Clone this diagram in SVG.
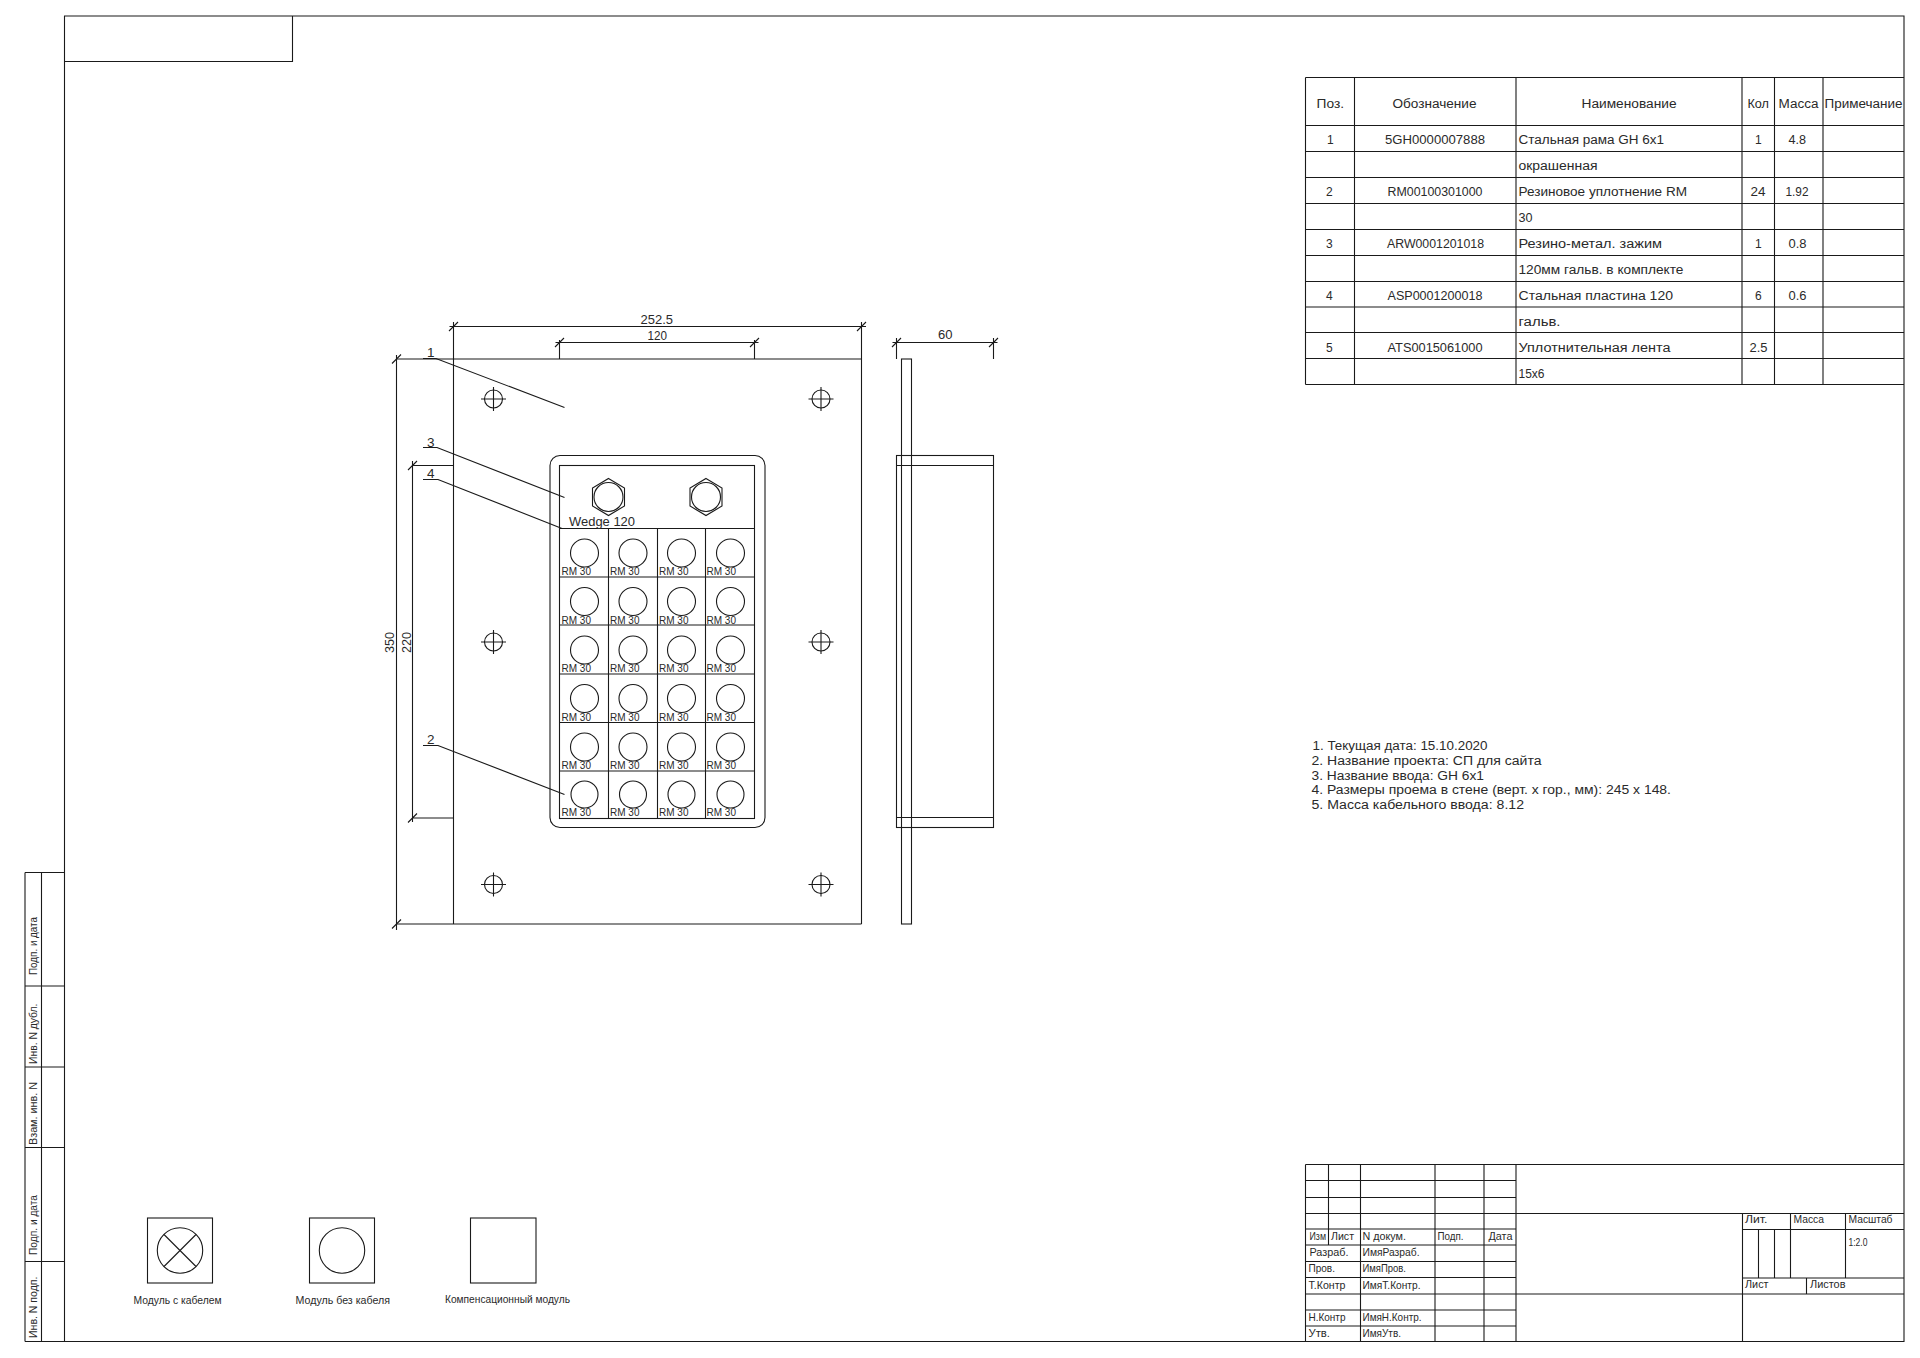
<svg xmlns="http://www.w3.org/2000/svg" width="1920" height="1358" viewBox="0 0 1920 1358">
<style>
.l{fill:none;stroke:#1a1a1a;stroke-width:1.1}
text{font-family:"Liberation Sans",Arial,sans-serif;fill:#2a2a2a;font-size:12px}
.s{font-size:10.5px}
.d{font-size:13.5px}
</style>
<rect width="1920" height="1358" fill="#fff"/>
<g id="frame">
<path class="l" d="M64.5 16H1904V1341.5H64.5ZM64.5 61.5H292.5V16M25 872.5H64.5M25 986H64.5M25 1067H64.5M25 1147.5H64.5M25 1261.5H64.5M25 1341.5H64.5M25 872.5V1341.5M41.5 872.5V1341.5"/>
<text class="s" transform="translate(36.5 975) rotate(-90)" textLength="58" lengthAdjust="spacingAndGlyphs">Подп. и дата</text>
<text class="s" transform="translate(36.5 1064) rotate(-90)" textLength="60.5" lengthAdjust="spacingAndGlyphs">Инв. N дубл.</text>
<text class="s" transform="translate(36.5 1145) rotate(-90)" textLength="63" lengthAdjust="spacingAndGlyphs">Взам. инв. N</text>
<text class="s" transform="translate(36.5 1255) rotate(-90)" textLength="60" lengthAdjust="spacingAndGlyphs">Подп. и дата</text>
<text class="s" transform="translate(36.5 1338) rotate(-90)" textLength="61.5" lengthAdjust="spacingAndGlyphs">Инв. N подп.</text>
</g>
<g id="front-view">
<path class="l" d="M453.5 322V924M861.5 322V924M396.5 359H861.5M396.5 924H861.5"/>
<g id="holes">
<path class="l" d="M481 399H506M493.5 387V411M808.5 399H833.5M821 387V411M481 642H506M493.5 630V654M808.5 642H833.5M821 630V654M481 884.5H506M493.5 872.5V896.5M808.5 884.5H833.5M821 872.5V896.5"/>
<circle class="l" cx="493.5" cy="399" r="9"/><circle class="l" cx="821" cy="399" r="9"/>
<circle class="l" cx="493.5" cy="642" r="9"/><circle class="l" cx="821" cy="642" r="9"/>
<circle class="l" cx="493.5" cy="884.5" r="9"/><circle class="l" cx="821" cy="884.5" r="9"/>
</g>
<rect class="l" x="550" y="455.5" width="215" height="372" rx="10"/>
<rect class="l" x="559.5" y="465.5" width="195" height="353"/>
<path class="l" d="M559.5 528.5H754.5M559.5 577H754.5M559.5 625H754.5M559.5 674H754.5M559.5 722.5H754.5M559.5 771H754.5M608.5 528.5V818.5M657.5 528.5V818.5M705.5 528.5V818.5"/>
<g id="wedge">
<path class="l" d="M608.5 478.5L624.5 488V506L608.5 515.5L592.5 506V488ZM706 478.5L722 488V506L706 515.5L690 506V488Z"/>
<circle class="l" cx="608.5" cy="497" r="14.5"/><circle class="l" cx="706" cy="497" r="14.5"/>
<text x="569" y="526" class="d" textLength="66" lengthAdjust="spacingAndGlyphs">Wedge 120</text>
</g>
<g id="modules">
<circle class="l" cx="584.5" cy="553" r="14"/><circle class="l" cx="633" cy="553" r="14"/><circle class="l" cx="681.5" cy="553" r="14"/><circle class="l" cx="730.5" cy="553" r="14"/>
<circle class="l" cx="584.5" cy="601.5" r="14"/><circle class="l" cx="633" cy="601.5" r="14"/><circle class="l" cx="681.5" cy="601.5" r="14"/><circle class="l" cx="730.5" cy="601.5" r="14"/>
<circle class="l" cx="584.5" cy="650" r="14"/><circle class="l" cx="633" cy="650" r="14"/><circle class="l" cx="681.5" cy="650" r="14"/><circle class="l" cx="730.5" cy="650" r="14"/>
<circle class="l" cx="584.5" cy="698.5" r="14"/><circle class="l" cx="633" cy="698.5" r="14"/><circle class="l" cx="681.5" cy="698.5" r="14"/><circle class="l" cx="730.5" cy="698.5" r="14"/>
<circle class="l" cx="584.5" cy="747" r="14"/><circle class="l" cx="633" cy="747" r="14"/><circle class="l" cx="681.5" cy="747" r="14"/><circle class="l" cx="730.5" cy="747" r="14"/>
<circle class="l" cx="584.5" cy="794.5" r="13.5"/><circle class="l" cx="633" cy="794.5" r="13.5"/><circle class="l" cx="681.5" cy="794.5" r="13.5"/><circle class="l" cx="730.5" cy="794.5" r="13.5"/>
<text class="s" x="561.5" y="575" textLength="29.5" lengthAdjust="spacingAndGlyphs">RM 30</text><text class="s" x="610" y="575" textLength="29.5" lengthAdjust="spacingAndGlyphs">RM 30</text><text class="s" x="659" y="575" textLength="29.5" lengthAdjust="spacingAndGlyphs">RM 30</text><text class="s" x="706.5" y="575" textLength="29.5" lengthAdjust="spacingAndGlyphs">RM 30</text>
<text class="s" x="561.5" y="623.5" textLength="29.5" lengthAdjust="spacingAndGlyphs">RM 30</text><text class="s" x="610" y="623.5" textLength="29.5" lengthAdjust="spacingAndGlyphs">RM 30</text><text class="s" x="659" y="623.5" textLength="29.5" lengthAdjust="spacingAndGlyphs">RM 30</text><text class="s" x="706.5" y="623.5" textLength="29.5" lengthAdjust="spacingAndGlyphs">RM 30</text>
<text class="s" x="561.5" y="672" textLength="29.5" lengthAdjust="spacingAndGlyphs">RM 30</text><text class="s" x="610" y="672" textLength="29.5" lengthAdjust="spacingAndGlyphs">RM 30</text><text class="s" x="659" y="672" textLength="29.5" lengthAdjust="spacingAndGlyphs">RM 30</text><text class="s" x="706.5" y="672" textLength="29.5" lengthAdjust="spacingAndGlyphs">RM 30</text>
<text class="s" x="561.5" y="720.5" textLength="29.5" lengthAdjust="spacingAndGlyphs">RM 30</text><text class="s" x="610" y="720.5" textLength="29.5" lengthAdjust="spacingAndGlyphs">RM 30</text><text class="s" x="659" y="720.5" textLength="29.5" lengthAdjust="spacingAndGlyphs">RM 30</text><text class="s" x="706.5" y="720.5" textLength="29.5" lengthAdjust="spacingAndGlyphs">RM 30</text>
<text class="s" x="561.5" y="769" textLength="29.5" lengthAdjust="spacingAndGlyphs">RM 30</text><text class="s" x="610" y="769" textLength="29.5" lengthAdjust="spacingAndGlyphs">RM 30</text><text class="s" x="659" y="769" textLength="29.5" lengthAdjust="spacingAndGlyphs">RM 30</text><text class="s" x="706.5" y="769" textLength="29.5" lengthAdjust="spacingAndGlyphs">RM 30</text>
<text class="s" x="561.5" y="816" textLength="29.5" lengthAdjust="spacingAndGlyphs">RM 30</text><text class="s" x="610" y="816" textLength="29.5" lengthAdjust="spacingAndGlyphs">RM 30</text><text class="s" x="659" y="816" textLength="29.5" lengthAdjust="spacingAndGlyphs">RM 30</text><text class="s" x="706.5" y="816" textLength="29.5" lengthAdjust="spacingAndGlyphs">RM 30</text>
</g>
</g>
<g id="side-view">
<rect class="l" x="901.5" y="359" width="10" height="565"/>
<rect class="l" x="896.5" y="455.5" width="97" height="372"/>
<path class="l" d="M896.5 465.5H993.5M896.5 817.5H993.5"/>
</g>
<g id="connectors">
<path class="l" d="M449.5 326.5H866M449 331L458 322M857 331L866 322"/>
<path class="l" d="M559.5 340V359M754.5 340V359M555.5 342.5H758.5M555 347L564 338M750 347L759 338"/>
<path class="l" d="M896.5 338V359M993.5 338V359M892.5 342.5H997.5M892 347L901 338M989 347L998 338"/>
<path class="l" d="M396.5 355V930M392 363.5L401 354.5M392 928.5L401 919.5"/>
<path class="l" d="M412.5 461V822M412.5 465.5H453.5M412.5 818H453.5M408 470L417 461M408 822.5L417 813.5"/>
<path class="l" d="M423 358.5H436L564.5 407.5M423 447.5H437L564.5 497.5M423 479.5H438L562 528.5M423 745.5H438L564.5 794.5"/>
<text class="d" x="640.5" y="324" textLength="32.5" lengthAdjust="spacingAndGlyphs">252.5</text>
<text class="d" x="647.5" y="340" textLength="19.5" lengthAdjust="spacingAndGlyphs">120</text>
<text class="d" x="938" y="339" textLength="14.5" lengthAdjust="spacingAndGlyphs">60</text>
<text class="d" transform="translate(394 653) rotate(-90)" textLength="21" lengthAdjust="spacingAndGlyphs">350</text>
<text class="d" transform="translate(410.5 653) rotate(-90)" textLength="21" lengthAdjust="spacingAndGlyphs">220</text>
<text class="d" x="427" y="356.5">1</text>
<text class="d" x="427" y="446.5">3</text>
<text class="d" x="427" y="478">4</text>
<text class="d" x="427" y="744">2</text>
</g>
<g id="parts-table">
<path class="l" d="M1305.5 77.5H1904M1305.5 125.5H1904M1305.5 151.5H1904M1305.5 177.5H1904M1305.5 203.5H1904M1305.5 229.5H1904M1305.5 255.5H1904M1305.5 281.5H1904M1305.5 307H1904M1305.5 332.5H1904M1305.5 358.5H1904M1305.5 384.5H1904M1305.5 77.5V384.5M1354.5 77.5V384.5M1516 77.5V384.5M1742 77.5V384.5M1774.5 77.5V384.5M1823 77.5V384.5"/>
<text x="1316.5" y="107.5" textLength="27.5" lengthAdjust="spacingAndGlyphs">Поз.</text>
<text x="1392.5" y="107.5" textLength="84" lengthAdjust="spacingAndGlyphs">Обозначение</text>
<text x="1581.5" y="107.5" textLength="95" lengthAdjust="spacingAndGlyphs">Наименование</text>
<text x="1747.5" y="107.5" textLength="21.5" lengthAdjust="spacingAndGlyphs">Кол</text>
<text x="1778.5" y="107.5" textLength="40" lengthAdjust="spacingAndGlyphs">Масса</text>
<text x="1824.5" y="107.5" textLength="78" lengthAdjust="spacingAndGlyphs">Примечание</text>
<text x="1327" y="144">1</text><text x="1385" y="144" textLength="100" lengthAdjust="spacingAndGlyphs">5GH0000007888</text><text x="1518.5" y="144" textLength="145.5" lengthAdjust="spacingAndGlyphs">Стальная рама GH 6x1</text><text x="1755" y="144">1</text><text x="1788.5" y="144" textLength="17.5" lengthAdjust="spacingAndGlyphs">4.8</text>
<text x="1518.5" y="170" textLength="79" lengthAdjust="spacingAndGlyphs">окрашенная</text>
<text x="1326" y="196">2</text><text x="1387.5" y="196" textLength="95" lengthAdjust="spacingAndGlyphs">RM00100301000</text><text x="1518.5" y="196" textLength="168.5" lengthAdjust="spacingAndGlyphs">Резиновое уплотнение RM</text><text x="1750.5" y="196" textLength="15" lengthAdjust="spacingAndGlyphs">24</text><text x="1785.5" y="196" textLength="23" lengthAdjust="spacingAndGlyphs">1.92</text>
<text x="1518.5" y="222" textLength="14" lengthAdjust="spacingAndGlyphs">30</text>
<text x="1326" y="248">3</text><text x="1387" y="248" textLength="97" lengthAdjust="spacingAndGlyphs">ARW0001201018</text><text x="1518.5" y="248" textLength="143.5" lengthAdjust="spacingAndGlyphs">Резино-метал. зажим</text><text x="1755" y="248">1</text><text x="1788.5" y="248" textLength="18" lengthAdjust="spacingAndGlyphs">0.8</text>
<text x="1518.5" y="274" textLength="165" lengthAdjust="spacingAndGlyphs">120мм гальв. в комплекте</text>
<text x="1326" y="300">4</text><text x="1387.5" y="300" textLength="95" lengthAdjust="spacingAndGlyphs">ASP0001200018</text><text x="1518.5" y="300" textLength="154.5" lengthAdjust="spacingAndGlyphs">Стальная пластина 120</text><text x="1755" y="300">6</text><text x="1788.5" y="300" textLength="18" lengthAdjust="spacingAndGlyphs">0.6</text>
<text x="1518.5" y="326" textLength="42" lengthAdjust="spacingAndGlyphs">гальв.</text>
<text x="1326" y="351.5">5</text><text x="1387.5" y="351.5" textLength="95" lengthAdjust="spacingAndGlyphs">ATS0015061000</text><text x="1518.5" y="351.5" textLength="152" lengthAdjust="spacingAndGlyphs">Уплотнительная лента</text><text x="1749.5" y="351.5" textLength="18" lengthAdjust="spacingAndGlyphs">2.5</text>
<text x="1518.5" y="377.5" textLength="26" lengthAdjust="spacingAndGlyphs">15x6</text>
</g>
<g id="notes">
<text x="1312.5" y="750" textLength="175" lengthAdjust="spacingAndGlyphs">1. Текущая дата: 15.10.2020</text>
<text x="1311.5" y="765" textLength="230" lengthAdjust="spacingAndGlyphs">2. Название проекта: СП для сайта</text>
<text x="1311.5" y="779.5" textLength="172.5" lengthAdjust="spacingAndGlyphs">3. Название ввода: GH 6x1</text>
<text x="1311.5" y="794" textLength="359.5" lengthAdjust="spacingAndGlyphs">4. Размеры проема в стене (верт. х гор., мм): 245 х 148.</text>
<text x="1311.5" y="808.5" textLength="212.5" lengthAdjust="spacingAndGlyphs">5. Масса кабельного ввода:  8.12</text>
</g>
<g id="legend">
<rect class="l" x="147.5" y="1218" width="65" height="65"/>
<circle class="l" cx="180" cy="1250.5" r="22.7"/>
<path class="l" d="M164 1234.5L196 1266.5M196 1234.5L164 1266.5"/>
<rect class="l" x="309.5" y="1218" width="65" height="65"/>
<circle class="l" cx="342" cy="1250.5" r="22.7"/>
<rect class="l" x="470.5" y="1218" width="65.5" height="65"/>
<text class="s" x="133.5" y="1304" textLength="88" lengthAdjust="spacingAndGlyphs">Модуль с кабелем</text>
<text class="s" x="295.5" y="1304" textLength="94.5" lengthAdjust="spacingAndGlyphs">Модуль без кабеля</text>
<text class="s" x="445" y="1303" textLength="125" lengthAdjust="spacingAndGlyphs">Компенсационный модуль</text>
</g>
<g id="title-block">
<path class="l" d="M1305.5 1164.5H1904M1305.5 1180.5H1516M1305.5 1197.5H1516M1305.5 1213.5H1904M1305.5 1229H1516M1305.5 1245H1516M1305.5 1261.5H1516M1305.5 1277.5H1516M1305.5 1294H1904M1305.5 1310H1516M1305.5 1326H1516M1305.5 1164.5V1341.5M1328.5 1164.5V1245M1360.5 1164.5V1341.5M1435 1164.5V1341.5M1484 1164.5V1341.5M1516 1164.5V1341.5"/>
<path class="l" d="M1742.5 1213.5V1341.5M1742.5 1229.5H1904M1742.5 1278H1904M1758.5 1229.5V1278M1774.5 1229.5V1278M1790.5 1213.5V1278M1845.5 1213.5V1278M1806.5 1278V1294"/>
<text class="s" x="1309.5" y="1240" textLength="16.5" lengthAdjust="spacingAndGlyphs">Изм</text>
<text class="s" x="1331" y="1240" textLength="23" lengthAdjust="spacingAndGlyphs">Лист</text>
<text class="s" x="1362.5" y="1240" textLength="43.5" lengthAdjust="spacingAndGlyphs">N докум.</text>
<text class="s" x="1437.5" y="1240" textLength="26" lengthAdjust="spacingAndGlyphs">Подп.</text>
<text class="s" x="1488.5" y="1240" textLength="24" lengthAdjust="spacingAndGlyphs">Дата</text>
<text class="s" x="1309.5" y="1256" textLength="39" lengthAdjust="spacingAndGlyphs">Разраб.</text>
<text class="s" x="1362.5" y="1256" textLength="57" lengthAdjust="spacingAndGlyphs">ИмяРазраб.</text>
<text class="s" x="1308.5" y="1271.5" textLength="26.5" lengthAdjust="spacingAndGlyphs">Пров.</text>
<text class="s" x="1362.5" y="1271.5" textLength="43.5" lengthAdjust="spacingAndGlyphs">ИмяПров.</text>
<text class="s" x="1308.5" y="1288.5" textLength="37" lengthAdjust="spacingAndGlyphs">Т.Контр</text>
<text class="s" x="1362.5" y="1288.5" textLength="58" lengthAdjust="spacingAndGlyphs">ИмяТ.Контр.</text>
<text class="s" x="1308.5" y="1320.5" textLength="37" lengthAdjust="spacingAndGlyphs">Н.Контр</text>
<text class="s" x="1362.5" y="1320.5" textLength="59" lengthAdjust="spacingAndGlyphs">ИмяН.Контр.</text>
<text class="s" x="1308.5" y="1336.5" textLength="21.5" lengthAdjust="spacingAndGlyphs">Утв.</text>
<text class="s" x="1362.5" y="1336.5" textLength="38.5" lengthAdjust="spacingAndGlyphs">ИмяУтв.</text>
<text class="s" x="1745" y="1222.5" textLength="22.5" lengthAdjust="spacingAndGlyphs">Лит.</text>
<text class="s" x="1793.5" y="1222.5" textLength="30.5" lengthAdjust="spacingAndGlyphs">Масса</text>
<text class="s" x="1848.5" y="1222.5" textLength="44" lengthAdjust="spacingAndGlyphs">Масштаб</text>
<text class="s" x="1848.5" y="1246" textLength="19" lengthAdjust="spacingAndGlyphs">1:2.0</text>
<text class="s" x="1745" y="1287.5" textLength="23.5" lengthAdjust="spacingAndGlyphs">Лист</text>
<text class="s" x="1810" y="1287.5" textLength="35.5" lengthAdjust="spacingAndGlyphs">Листов</text>
</g>
</svg>
